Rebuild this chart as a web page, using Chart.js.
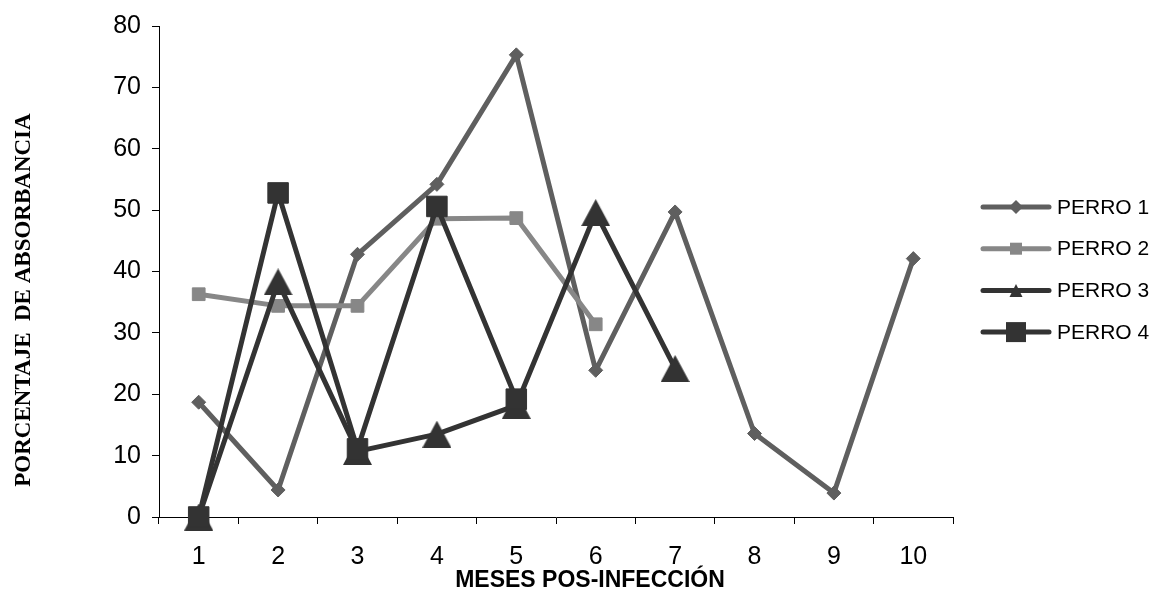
<!DOCTYPE html>
<html>
<head>
<meta charset="utf-8">
<script src="https://cdn.jsdelivr.net/npm/chart.js@4/dist/chart.umd.min.js"></script>
<style>
  html, body { margin: 0; padding: 0; background: #fff; }
  #wrap { width: 1159px; height: 593px; position: relative; }
</style>
</head>
<body>
<div id="wrap"><canvas id="c" width="1159" height="593"></canvas></div>
<script>
// Months after infection (x categories)
const meses = ['1', '2', '3', '4', '5', '6', '7', '8', '9', '10'];

// Absorbance percentage per dog
const perro1 = [18.7, 4.4, 42.8, 54.2, 75.3, 23.9, 49.7, 13.6, 3.9, 42.1];
const perro2 = [36.3, 34.4, 34.4, 48.6, 48.7, 31.4, null, null, null, null];
const perro3 = [0, 38.3, 10.7, 13.5, 18.2, 49.6, 24.2, null, null, null];
const perro4 = [0, 52.8, 11.1, 50.6, 19.2, null, null, null, null, null];

const nombres = ['PERRO 1', 'PERRO 2', 'PERRO 3', 'PERRO 4'];
const yTicks = { min: 0, max: 80, step: 10 };

const SANS = '"Liberation Sans", Arial, sans-serif';
const SERIF = '"Liberation Serif", "Times New Roman", serif';

// Triangle marker centred on its bounding box
function triangulo(w, h, color) {
  const cv = document.createElement('canvas');
  cv.width = w; cv.height = h;
  const g = cv.getContext('2d');
  g.fillStyle = color;
  g.beginPath();
  g.moveTo(w / 2, 0);
  g.lineTo(w, h);
  g.lineTo(0, h);
  g.closePath();
  g.fill();
  return cv;
}

const C1 = '#5f5f5f', C2 = '#878787', C3 = '#333333', C4 = '#333333';
const tri = triangulo(29, 27, C3);

const base = {
  borderWidth: 5,
  borderJoinStyle: 'round',
  borderCapStyle: 'round',
  tension: 0,
  clip: false,
  spanGaps: false,
  pointBorderWidth: 1
};

const datasets = [
  Object.assign({}, base, { label: nombres[0], data: perro1, borderColor: C1, backgroundColor: C1,
    pointStyle: 'rectRot', pointRadius: 7, order: 4, legendMark: { style: 'diamond', size: 7 } }),
  Object.assign({}, base, { label: nombres[1], data: perro2, borderColor: C2, backgroundColor: C2,
    pointStyle: 'rect', pointRadius: 9, order: 3, legendMark: { style: 'square', size: 12 } }),
  Object.assign({}, base, { label: nombres[2], data: perro3, borderColor: C3, backgroundColor: C3,
    pointStyle: tri, pointRadius: 14, order: 2, legendMark: { style: 'triangle', size: 13 } }),
  Object.assign({}, base, { label: nombres[3], data: perro4, borderColor: C4, backgroundColor: C4,
    pointStyle: 'rect', pointRadius: 14.5, order: 1, legendMark: { style: 'square', size: 20 } })
];

// Legend on the right: line sample with marker, then label
const leyenda = {
  id: 'leyenda',
  afterDraw(chart) {
    const ctx = chart.ctx;
    const x0 = 983, x1 = 1049, xm = (x0 + x1) / 2, xt = 1057;
    const y0 = 207, dy = 41.7;
    chart.data.datasets.forEach((ds, i) => {
      const y = y0 + i * dy;
      ctx.save();
      ctx.strokeStyle = ds.borderColor;
      ctx.lineWidth = 5;
      ctx.lineCap = 'round';
      ctx.beginPath();
      ctx.moveTo(x0, y);
      ctx.lineTo(x1, y);
      ctx.stroke();
      ctx.fillStyle = ds.borderColor;
      const m = ds.legendMark, s = m.size;
      ctx.beginPath();
      if (m.style === 'diamond') {
        ctx.moveTo(xm, y - s); ctx.lineTo(xm + s, y); ctx.lineTo(xm, y + s); ctx.lineTo(xm - s, y);
      } else if (m.style === 'square') {
        ctx.rect(xm - s / 2, y - s / 2, s, s);
      } else {
        ctx.moveTo(xm, y - s / 2); ctx.lineTo(xm + s / 2, y + s / 2); ctx.lineTo(xm - s / 2, y + s / 2);
      }
      ctx.closePath();
      ctx.fill();
      ctx.fillStyle = '#000';
      ctx.font = '21px ' + SANS;
      ctx.textBaseline = 'middle';
      ctx.textAlign = 'left';
      ctx.fillText(ds.label, xt, y + 1);
      ctx.restore();
    });
  }
};

// Axis titles
const titulos = {
  id: 'titulos',
  afterDraw(chart) {
    const ctx = chart.ctx;
    ctx.save();
    ctx.fillStyle = '#000';
    ctx.textAlign = 'center';
    ctx.textBaseline = 'middle';
    ctx.font = 'bold 23px ' + SANS;
    ctx.fillText('MESES POS-INFECCIÓN', 590, 581);
    ctx.translate(24, 300);
    ctx.rotate(-Math.PI / 2);
    ctx.font = 'bold 23px ' + SERIF;
    ctx.fillText('PORCENTAJE  DE ABSORBANCIA', 0, 0);
    ctx.restore();
  }
};

new Chart(document.getElementById('c'), {
  type: 'line',
  data: { labels: meses, datasets },
  options: {
    responsive: false,
    devicePixelRatio: 1,
    animation: false,
    events: [],
    layout: { padding: { top: 24, right: 206, bottom: 0, left: 0 } },
    plugins: { legend: { display: false }, tooltip: { enabled: false } },
    scales: {
      x: {
        type: 'category',
        offset: true,
        grid: { offset: true, drawOnChartArea: false, color: '#000', tickColor: '#000', tickLength: 7, lineWidth: 1 },
        border: { color: '#000', width: 1 },
        ticks: { color: '#000', font: { family: SANS, size: 25 }, padding: 18, maxRotation: 0, autoSkip: false },
        afterFit(s) { s.height = 76; }
      },
      y: {
        min: yTicks.min,
        max: yTicks.max,
        grid: { drawOnChartArea: false, color: '#000', tickColor: '#000', tickLength: 7, lineWidth: 1 },
        border: { color: '#000', width: 1 },
        ticks: { stepSize: yTicks.step, color: '#000', font: { family: SANS, size: 25 }, padding: 11 },
        afterFit(s) { s.width = 159; }
      }
    }
  },
  plugins: [leyenda, titulos]
});
</script>
</body>
</html>
